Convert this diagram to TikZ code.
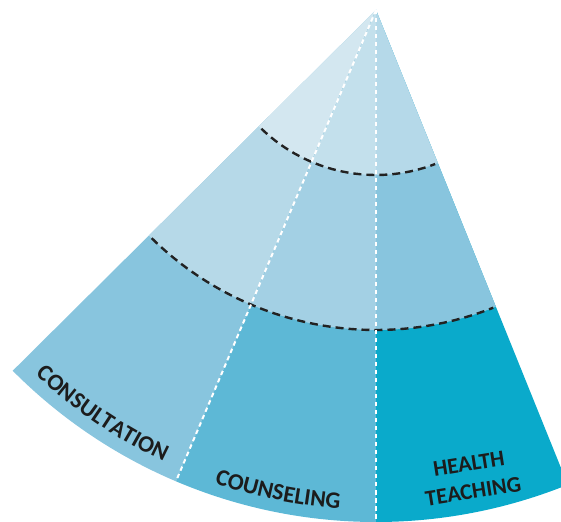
\documentclass[tikz,border=0pt]{standalone}
\usepackage{fontspec}
\setmainfont{Carlito}
\usetikzlibrary{decorations.text,calc}
\definecolor{c11}{HTML}{D3E7F0}
\definecolor{c12}{HTML}{C3E0EC}
\definecolor{c13}{HTML}{B5D9E9}
\definecolor{c21}{HTML}{B6D9E8}
\definecolor{c22}{HTML}{A3D0E4}
\definecolor{c23}{HTML}{88C5DE}
\definecolor{c31}{HTML}{88C5DE}
\definecolor{c32}{HTML}{5DB8D6}
\definecolor{c33}{HTML}{0AAACB}
\definecolor{txt}{HTML}{1C1C1C}
\definecolor{dashk}{HTML}{222222}
\newcommand\arcfont{\bfseries\fontsize{23.5}{28}\selectfont}
\newcommand\lblfont{\bfseries\fontsize{22.5}{28}\selectfont}
\begin{document}
\begin{tikzpicture}[x=1pt,y=1pt,
  whitedash/.style={white, line width=2pt, dash pattern=on 4.5pt off 3.5pt},
  blackdash/.style={dashk, line width=2.4pt, dash pattern=on 8pt off 5pt},
  arclabel/.style={decorate, decoration={text along path, text align=center, text color=txt, text={|\arcfont|#1}}},
  lbl/.style={text=txt, font=\lblfont, align=center, inner sep=0pt}]
\useasboundingbox (0,0) rectangle (561,521);
\clip (0,0) rectangle (561,521);
\coordinate (A) at (376,511);
% three columns, each with three bands
\foreach \s/\e/\cb/\cm/\ct in {-135.2/-113/c31/c21/c11, -113/-90/c32/c22/c12, -90/-68/c33/c23/c13}{
  \fill[\cb] (A) -- ++(\s:512pt) arc[start angle=\s, end angle=\e, radius=512pt] -- cycle;
  \fill[\cm] (A) -- ++(\s:320pt) arc[start angle=\s, end angle=\e, radius=320pt] -- cycle;
  \fill[\ct] (A) -- ++(\s:165pt) arc[start angle=\s, end angle=\e, radius=165pt] -- cycle;
}
% dashed black band borders
\draw[blackdash] (A) ++(-134:165pt) arc[start angle=-134, end angle=-69, radius=165pt];
\draw[blackdash] (A) ++(-134.5:320pt) arc[start angle=-134.5, end angle=-68.5, radius=320pt];
% white dashed dividers
\coordinate (B1) at ($(A)+(-113:512pt)$);
\coordinate (B2) at ($(A)+(-90:512pt)$);
\draw[whitedash] (A) -- (B1);
\draw[whitedash] (A) -- (B2);
% labels
\path[arclabel=CONSULTATION] (A) ++(-135.2:499pt) arc[start angle=-135.2, end angle=-113, radius=499pt];
\path[arclabel=COUNSELING] (A) ++(-113:500pt) arc[start angle=-113, end angle=-90, radius=500pt];
\node[lbl, rotate=9] (ht) at (471,43.4) {HEALTH\\TEACHING};
\end{tikzpicture}
\end{document}
